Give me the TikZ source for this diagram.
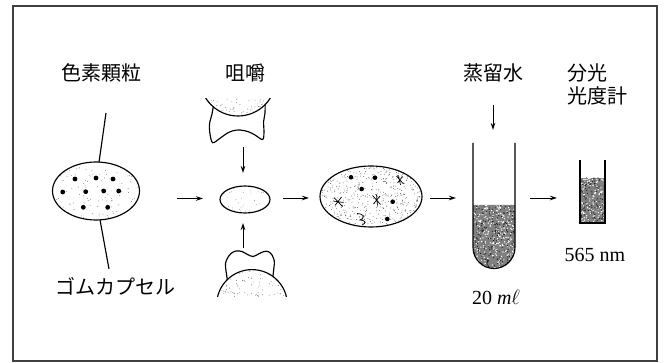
\documentclass[tikz,border=0pt]{standalone}
\usepackage{fontspec}
\setmainfont{Liberation Serif}
\newfontfamily\jpfont{Noto Sans CJK JP}
\usetikzlibrary{arrows.meta}

% random grain: count, x0, x1, y0, y1, dot radius, colour
\newcommand\speckle[7]{%
  \foreach \k in {1,...,#1}{%
    \fill[#7] ({#2+rnd*(#3-#2)},{#4+rnd*(#5-#4)}) circle (#6);}}

\begin{document}
\begin{tikzpicture}[x=1pt,y=-1pt,
  outline/.style={line width=1.15pt,black},
  flow/.style={line width=0.9pt,-{Stealth[length=7pt,width=4.5pt]}},
  jp/.style={font=\jpfont\fontsize{20}{20}\selectfont,inner sep=0pt},
  lat/.style={font=\fontsize{20}{20}\selectfont,inner sep=0pt},
  pellet/.style={fill=black},
]
\useasboundingbox (0,0) rectangle (664,363);
\pgfmathsetseed{4711}

% frame
\draw[line width=1.3pt,black!75] (13,6) rectangle (657,361);

% ---- labels ----
\node[jp] (pig) at (101,73) {色素顆粒};
\node[jp] (chew) at (245,73) {咀嚼};
\node[jp] (water) at (493,73) {蒸留水};
\node[jp,anchor=west] (spec1) at (567,73) {分光};
\node[jp,anchor=west] (spec2) at (567,96) {光度計};
\node[jp] (rubber) at (115,286) {ゴムカプセル};
\node[lat] (wave) at (595,255) {565 nm};
\node[lat] (vol) at (496,297) {20 \textit{m}$\ell$};

% ---- rubber capsule with pigment granules ----
\coordinate (capT1) at (106,113);
\coordinate (capT2) at (99,162.3);
\coordinate (capB1) at (100,219.8);
\coordinate (capB2) at (109,269);
\draw[outline] (capT1) -- (capT2);
\draw[outline] (capB1) -- (capB2);
\begin{scope}
  \clip (96,191) ellipse [x radius=43.5,y radius=29];
  \speckle{120}{52}{140}{162}{220}{0.45pt}{black!55}
\end{scope}
\draw[outline] (96,191) ellipse [x radius=43.5,y radius=29];
\foreach \p in {(75,179),(96,178),(113,179),(62.7,192),(85.7,191.7),
                (103.7,191),(118.7,191),(83.3,207.3),(107.7,207.3)}
  \fill[pellet] \p circle (2.4pt);

% ---- chewing: upper jaw ----
\draw[outline,fill=white] plot[smooth,tension=0.55] coordinates {
  (214,102) (212,114) (209.5,124) (210,134) (212.7,142.7) (220,138.3)
  (227,133.3) (233.3,130.7) (240,130) (248.3,131.7) (255,135)
  (262.7,139.5) (264,131) (263.5,122) (265,113) (265,100)};
\begin{scope}
  \clip (195,99) rectangle (285,125);
  \fill[white] (238,78) circle (38pt);
  \begin{scope}
    \clip (238,78) circle (38pt);
    \speckle{90}{200}{276}{99}{117}{0.45pt}{black!55}
  \end{scope}
  \draw[outline] (238,78) circle (38pt);
\end{scope}

% ---- chewing: lower jaw ----
\draw[outline,fill=white] plot[smooth,tension=0.55] coordinates {
  (228,284) (225.5,266) (227,259) (231,253.5) (236,251) (242,251.5)
  (247.5,254.5) (253,256.5) (258.5,254) (264,251.5) (268.5,251.7)
  (272,255) (274.3,261) (274,267) (272,284)};
\begin{scope}
  \clip (200,240) rectangle (300,296.5);
  \fill[white] (252,305) circle (35.4pt);
  \begin{scope}
    \clip (252,305) circle (35.4pt);
    \speckle{110}{215}{290}{268}{297}{0.45pt}{black!55}
  \end{scope}
  \draw[outline] (252,305) circle (35.4pt);
\end{scope}

% ---- chewed capsule ----
\begin{scope}
  \clip (245,199.5) ellipse [x radius=25,y radius=13.5];
  \speckle{45}{219}{271}{185}{214}{0.4pt}{black!50}
\end{scope}
\draw[outline] (245,199.5) ellipse [x radius=25,y radius=13.5];

% ---- broken capsule in saliva ----
\begin{scope}
  \clip (371,196.5) ellipse [x radius=51,y radius=30.5];
  \speckle{560}{319}{423}{165}{228}{0.45pt}{black!65}
\end{scope}
\draw[outline] (371,196.5) ellipse [x radius=51,y radius=30.5];
\foreach \p in {(351,177.3),(375,177.7),(361.7,189),(392.7,201.7),(387.3,219)}
  \fill[pellet] \p circle (2.3pt);
% torn capsule fragments
\begin{scope}[line width=0.7pt]
  \draw (334,197.5) -- (342.5,206.5) (335,205.5) -- (341.5,197) (333,201) -- (343.5,202.5);
  \draw (372.5,195.5) -- (380.5,204.5) (373.5,204) -- (380,196) (376.5,194.5) -- (377.5,205.5);
  \draw (396.5,176) -- (403.5,184) (397.5,183) -- (402.5,176.5) (398.5,175.5) -- (400.5,185);
  \draw (357,213.5) .. controls (364,214) and (366,217) .. (360,220)
        .. controls (365,220) and (367,223) .. (362,225);
\end{scope}

% ---- test tube with distilled water ----
\begin{scope}
  \clip (473,205) -- (473,247.5) arc[start angle=180,end angle=0,radius=21] -- (515,205) -- cycle;
  \fill[black!50] (470,203) rectangle (518,272);
  \speckle{330}{471}{517}{204}{271}{0.7pt}{white}
  \speckle{280}{471}{517}{204}{271}{0.6pt}{black!90}
\end{scope}
\draw[outline] (473,143) -- (473,247.5) arc[start angle=180,end angle=0,radius=21] -- (515,143);

% ---- cuvette ----
\begin{scope}
  \clip (580,178) rectangle (605,223);
  \fill[black!50] (580,178) rectangle (605,223);
  \speckle{150}{579}{606}{177}{224}{0.7pt}{white}
  \speckle{130}{579}{606}{177}{224}{0.6pt}{black!90}
\end{scope}
\draw[outline] (580,160) -- (580,223) -- (605,223) -- (605,160);

% ---- arrows ----
\coordinate (a1s) at (177,198.5);  \coordinate (a1e) at (203,198.5);
\coordinate (a2s) at (283,198);    \coordinate (a2e) at (309,198);
\coordinate (a3s) at (430,198);    \coordinate (a3e) at (456,198);
\coordinate (a4s) at (530,198);    \coordinate (a4e) at (557,198);
\coordinate (dws) at (493,105);    \coordinate (dwe) at (493,130);
\coordinate (ups) at (243,147);    \coordinate (upe) at (243,173);
\coordinate (los) at (243,248);    \coordinate (loe) at (243,223);
\foreach \s/\e in {a1s/a1e,a2s/a2e,a3s/a3e,a4s/a4e,dws/dwe,ups/upe,los/loe}
  \draw[flow] (\s) -- (\e);
\end{tikzpicture}
\end{document}
